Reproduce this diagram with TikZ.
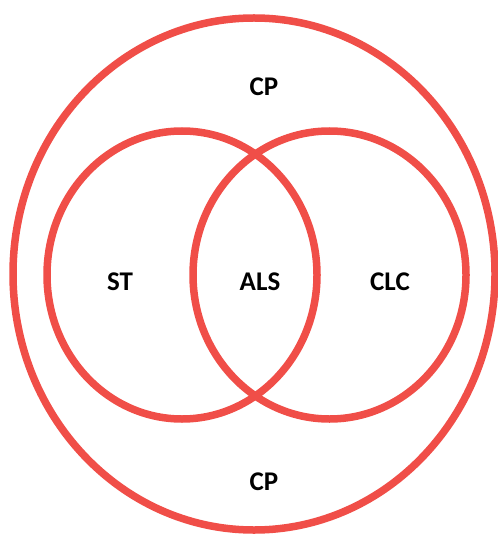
\documentclass[tikz,border=0pt]{standalone}
\usepackage{fontspec}
\setmainfont{Carlito}
\definecolor{vennred}{RGB}{240,78,72}
\begin{document}
\begin{tikzpicture}[x=1pt,y=-1pt,
  ring/.style={draw=vennred,line width=7.5pt},
  lbl/.style={font=\bfseries\fontsize{27}{30}\selectfont,text=black,inner sep=0pt}]
\useasboundingbox (0,0) rectangle (497,534);
\draw[ring] (254,274) ellipse [x radius=241,y radius=256];
\draw[ring] (182,275) ellipse [x radius=135,y radius=144];
\draw[ring] (329.5,275) ellipse [x radius=136.5,y radius=144];
\node[lbl] (cptop) at (264,87) {CP};
\node[lbl] (cpbot) at (264,482) {CP};
\node[lbl] (st) at (120,282) {ST};
\node[lbl] (als) at (260,282) {ALS};
\node[lbl] (clc) at (390,282) {CLC};
\end{tikzpicture}
\end{document}
